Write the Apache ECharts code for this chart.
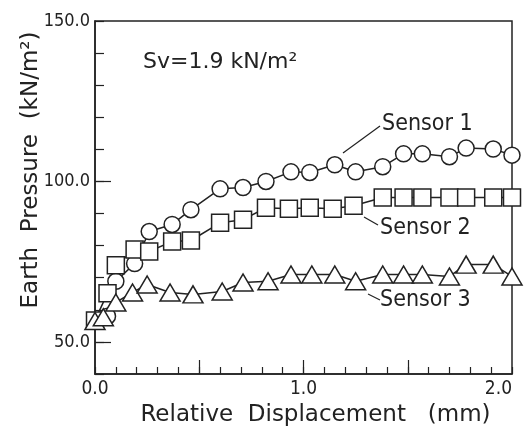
<!DOCTYPE html>
<html>
	<head>
		<meta charset="utf-8">
		<title>Earth Pressure</title>
		<script src="https://cdn.jsdelivr.net/npm/echarts@6/dist/echarts.min.js"></script>
		<style>
			html, body { margin: 0; padding: 0; background: #fff; }
			#chart { width: 527px; height: 432px; }
		</style>
	</head>
	<body>
		<div id="chart"></div>
		<script>
			// relative displacement (mm) of each reading
			var dispS1 = [0, 0.06, 0.10, 0.19, 0.26, 0.37, 0.46, 0.60, 0.71, 0.82, 0.94, 1.03, 1.15, 1.25, 1.38, 1.48, 1.57, 1.70, 1.78, 1.91, 2.0];
			var dispS2 = [0, 0.06, 0.10, 0.19, 0.26, 0.37, 0.46, 0.60, 0.71, 0.82, 0.93, 1.03, 1.14, 1.24, 1.38, 1.48, 1.57, 1.70, 1.78, 1.91, 2.0];
			var dispS3 = [0, 0.04, 0.10, 0.18, 0.25, 0.36, 0.47, 0.61, 0.71, 0.83, 0.94, 1.04, 1.15, 1.25, 1.38, 1.48, 1.57, 1.70, 1.78, 1.91, 2.0];
			// earth pressure (kN/m2)
			var sensor1 = [56.7, 58.0, 68.9, 74.4, 84.4, 86.6, 91.2, 97.7, 98.1, 100.0, 103.0, 102.8, 105.2, 103.0, 104.6, 108.6, 108.6, 107.7, 110.4, 110.1, 108.2];
			var sensor2 = [56.7, 65.2, 73.9, 78.8, 78.2, 81.3, 81.6, 87.1, 88.1, 91.8, 91.5, 91.8, 91.5, 92.4, 95.0, 95.0, 95.0, 95.0, 95.0, 95.0, 95.0];
			var sensor3 = [56.5, 57.7, 62.3, 65.4, 67.9, 65.4, 64.8, 65.7, 68.5, 68.9, 71.0, 71.0, 71.0, 68.9, 71.0, 71.0, 71.0, 70.4, 74.1, 74.1, 70.4];
			var seriesNames = ['Sensor 1', 'Sensor 2', 'Sensor 3'];
			var xLabels = [0, 1, 2];
			var yLabels = [50, 100, 150];

			var ink = '#222';
			var cond = "'DejaVu Sans Condensed', sans-serif";
			var wide = "'DejaVu Sans', sans-serif";

			function pairs(xs, ys) {
				return xs.map(function(x, i) { return [x, ys[i]]; });
			}

			function lineSeries(name, data, symbol, size) {
				return {
					name: name,
					type: 'line',
					data: data,
					symbol: symbol,
					symbolSize: size,
					showAllSymbol: true,
					clip: false,
					lineStyle: { color: ink, width: 1.5 },
					itemStyle: { color: '#fff', borderColor: ink, borderWidth: 1.5 },
					z: 3
				};
			}

			var chart = echarts.init(document.getElementById('chart'));

			var option = {
				backgroundColor: '#fff',
				animation: false,
				grid: {
					left: 95, right: 15, top: 21, bottom: 57,
					show: true, borderColor: ink, borderWidth: 1.5
				},
				xAxis: [{
					type: 'value', min: 0, max: 2, interval: 0.1,
					name: 'Relative  Displacement   (mm)',
					nameLocation: 'middle', nameGap: 30,
					nameTextStyle: { fontFamily: wide, fontSize: 23, color: ink, padding: [0, 0, 0, 24] },
					splitLine: { show: false },
					axisLine: { lineStyle: { color: ink, width: 1.5 } },
					axisTick: { inside: true, length: 7, lineStyle: { color: ink, width: 1.2 } },
					axisLabel: {
						customValues: xLabels, margin: 6,
						fontFamily: cond, fontSize: 19, color: ink,
						alignMaxLabel: 'right',
						formatter: function(v) { return v.toFixed(1); }
					}
				}, {
					// long ticks at half steps
					type: 'value', min: 0, max: 2, position: 'bottom',
					splitLine: { show: false },
					axisLine: { show: false },
					axisLabel: { show: false },
					axisTick: { inside: true, length: 14, customValues: [0.5, 1.0, 1.5], lineStyle: { color: ink, width: 1.2 } }
				}],
				yAxis: [{
					type: 'value', min: 40, max: 150, interval: 10,
					splitLine: { show: false },
					axisLine: { lineStyle: { color: ink, width: 1.5 } },
					axisTick: { inside: true, length: 9, lineStyle: { color: ink, width: 1.2 } },
					axisLabel: {
						customValues: yLabels, margin: 5,
						fontFamily: cond, fontSize: 18, color: ink,
						formatter: function(v) { return v.toFixed(1); }
					}
				}, {
					type: 'value', min: 40, max: 150, position: 'left',
					splitLine: { show: false },
					axisLine: { show: false },
					axisLabel: { show: false },
					axisTick: { inside: true, length: 16, customValues: [50, 100], lineStyle: { color: ink, width: 1.2 } }
				}],
				graphic: [
					{
						type: 'text', x: 31, y: 170, rotation: Math.PI / 2,
						style: { text: 'Earth  Pressure  (kN/m²)', font: '23px ' + wide, fill: ink, align: 'center', verticalAlign: 'middle' }
					},
					{
						type: 'text', x: 143, y: 62,
						style: { text: 'Sv=1.9 kN/m²', font: '22px ' + wide, fill: ink, align: 'left', verticalAlign: 'middle' }
					},
					{ type: 'line', shape: { x1: 343, y1: 153, x2: 380, y2: 126 }, style: { stroke: ink, lineWidth: 1.2 } },
					{ type: 'line', shape: { x1: 364, y1: 217, x2: 378, y2: 225 }, style: { stroke: ink, lineWidth: 1.2 } },
					{ type: 'line', shape: { x1: 368, y1: 294, x2: 380, y2: 300 }, style: { stroke: ink, lineWidth: 1.2 } },
					{
						type: 'text', x: 382, y: 124,
						style: { text: seriesNames[0], font: '23px ' + cond, fill: ink, align: 'left', verticalAlign: 'middle' }
					},
					{
						type: 'text', x: 380, y: 228,
						style: { text: seriesNames[1], font: '23px ' + cond, fill: ink, align: 'left', verticalAlign: 'middle' }
					},
					{
						type: 'text', x: 380, y: 300,
						style: { text: seriesNames[2], font: '23px ' + cond, fill: ink, align: 'left', verticalAlign: 'middle' }
					}
				],
				series: [
					lineSeries(seriesNames[0], pairs(dispS1, sensor1), 'circle', 16),
					lineSeries(seriesNames[1], pairs(dispS2, sensor2), 'rect', [17, 17]),
					lineSeries(seriesNames[2], pairs(dispS3, sensor3), 'triangle', [20, 17])
				]
			};
			chart.setOption(option);
		</script>
	</body>
</html>
